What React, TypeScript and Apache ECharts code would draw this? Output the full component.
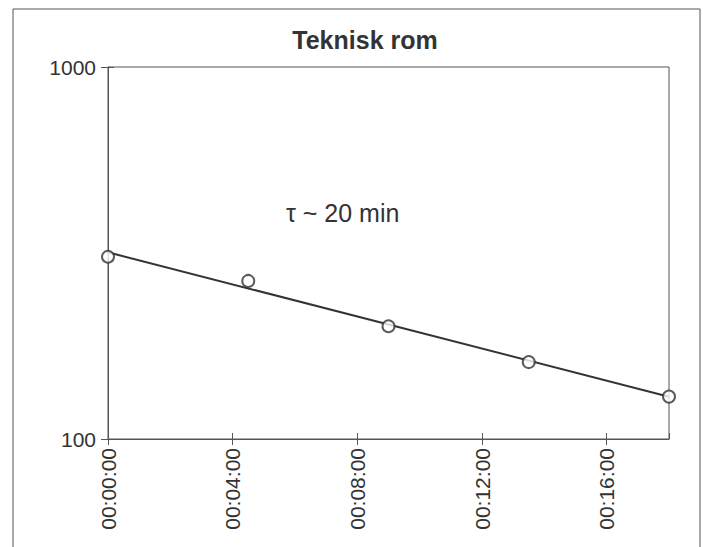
import React, { useEffect, useRef } from "react";
import * as echarts from "echarts";

const titleText = "Teknisk rom";
const annotation = "τ ~ 20 min";
const timesMin = [0, 4.5, 9, 13.5, 18];
const values = [309, 266, 201, 161, 130];
const xTickLabels = ["00:00:00", "00:04:00", "00:08:00", "00:12:00", "00:16:00"];

function fitExp(xs: number[], ys: number[]) {
  const n = xs.length;
  const ly = ys.map((v) => Math.log(v));
  const mx = xs.reduce((a, b) => a + b, 0) / n;
  const my = ly.reduce((a, b) => a + b, 0) / n;
  let sxy = 0, sxx = 0;
  for (let i = 0; i < n; i++) {
    sxy += (xs[i] - mx) * (ly[i] - my);
    sxx += (xs[i] - mx) ** 2;
  }
  const b = sxy / sxx;
  const a = my - b * mx;
  return (x: number) => Math.exp(a + b * x);
}

export default function App() {
  const ref = useRef<HTMLDivElement>(null);
  useEffect(() => {
    if (!ref.current) return;
    const chart = echarts.init(ref.current, null, { renderer: "svg" });
    const f = fitExp(timesMin, values);
    const x0 = timesMin[0];
    const x1 = timesMin[timesMin.length - 1];
    const font = "'Liberation Sans', Arial, sans-serif";
    const fmt = (v: number) => {
      const idx = Math.round(v / 4);
      return xTickLabels[idx] ?? "";
    };
    chart.setOption({
      animation: false,
      backgroundColor: "#fff",
      grid: {
        left: 108,
        right: 34,
        top: 67,
        bottom: 108,
        show: true,
        borderColor: "#555",
        borderWidth: 1,
        containLabel: false,
      },
      graphic: [
        {
          type: "rect",
          shape: { x: 13, y: 9, width: 687, height: 600 },
          style: { fill: "none", stroke: "#555", lineWidth: 1 },
          silent: true,
        },
        {
          type: "text",
          x: 365,
          y: 40,
          style: {
            text: titleText,
            font: `bold 25px ${font}`,
            fill: "#333",
            textAlign: "center",
            textVerticalAlign: "middle",
          },
        },
        {
          type: "text",
          x: 286,
          y: 213,
          style: {
            text: annotation,
            font: `25px ${font}`,
            fill: "#333",
            textAlign: "left",
            textVerticalAlign: "middle",
          },
        },
      ],
      xAxis: [
        {
          type: "value",
          min: 0,
          max: 18,
          interval: 4,
          splitLine: { show: false },
          axisLine: { show: true, lineStyle: { color: "#555", width: 1 } },
          axisTick: { show: true, length: 6, lineStyle: { color: "#555" } },
          axisLabel: {
            rotate: 90,
            formatter: fmt,
            fontFamily: font,
            fontSize: 21,
            color: "#333",
            margin: 9,
            showMaxLabel: false,
          },
        },
        {
          type: "value",
          position: "bottom",
          min: 0,
          max: 18,
          interval: 4,
          splitLine: { show: false },
          axisLine: { show: false },
          axisTick: { show: true, inside: true, length: 6, lineStyle: { color: "#555" } },
          axisLabel: { show: false },
        },
      ],
      yAxis: [
        {
          type: "log",
          logBase: 10,
          min: 100,
          max: 1000,
          splitLine: { show: false },
          axisLine: { show: true, lineStyle: { color: "#555", width: 1 } },
          axisTick: { show: true, length: 7, lineStyle: { color: "#555" } },
          axisLabel: {
            fontFamily: font,
            fontSize: 21,
            color: "#333",
            margin: 12,
            formatter: (v: number) => String(Math.round(v)),
          },
        },
        {
          type: "log",
          logBase: 10,
          min: 100,
          max: 1000,
          position: "left",
          splitLine: { show: false },
          axisLine: { show: false },
          axisTick: { show: true, inside: true, length: 6, lineStyle: { color: "#555" } },
          axisLabel: { show: false },
        },
      ],
      series: [
        {
          type: "line",
          data: [
            [x0, f(x0)],
            [x1, f(x1)],
          ],
          showSymbol: false,
          symbol: "none",
          lineStyle: { color: "#333", width: 2 },
          z: 2,
        },
        {
          type: "scatter",
          data: timesMin.map((t, i) => [t, values[i]]),
          symbol: "circle",
          symbolSize: 12,
          itemStyle: { color: "#fff", borderColor: "#333", borderWidth: 2 },
          z: 3,
        },
      ],
    });
    return () => chart.dispose();
  }, []);
  return (
    <div
      ref={ref}
      style={{ position: "absolute", left: 0, top: 0, width: 703, height: 547 }}
    />
  );
}
